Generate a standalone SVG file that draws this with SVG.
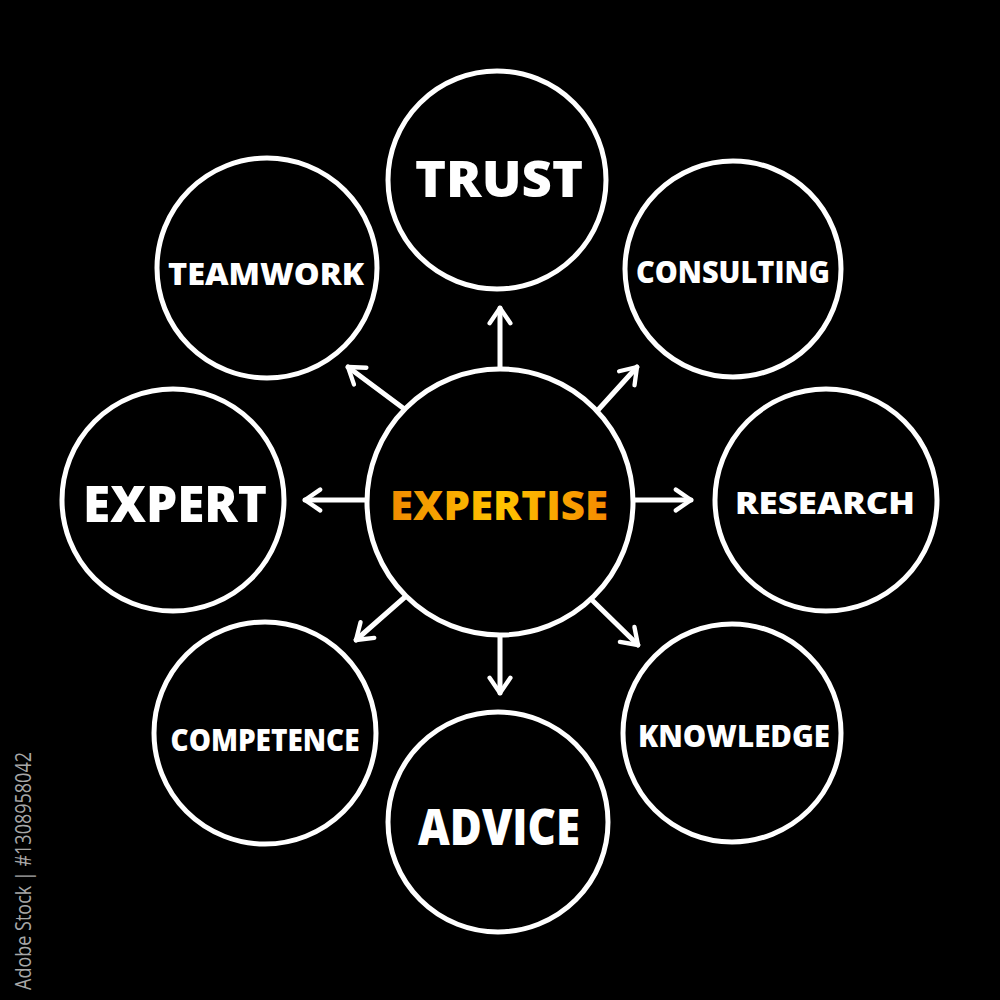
<svg xmlns="http://www.w3.org/2000/svg" width="1000" height="1000" viewBox="0 0 1000 1000">
<defs>
<style>
.ring{fill:#000;stroke:#fff;stroke-width:5}
.lbl{fill:#fff;font-family:"Open Sans","Liberation Sans",sans-serif;font-weight:800;text-anchor:middle}
.big{font-size:50px}
.sm{font-size:30px}
.arr{stroke:#fff;stroke-width:5;stroke-linecap:round;fill:none}
.credit{fill:#a8a8a8;font-family:"Open Sans","Liberation Sans",sans-serif;font-size:21px}
</style>
<linearGradient id="og" x1="0" y1="0" x2="1" y2="0">
<stop offset="0" stop-color="#f08a00"/>
<stop offset="0.5" stop-color="#ffc400"/>
<stop offset="1" stop-color="#f58a00"/>
</linearGradient>
<marker id="ah" viewBox="0 0 12 12" refX="9.5" refY="6" markerWidth="5.2" markerHeight="5.2" orient="auto" markerUnits="strokeWidth">
<path d="M2.5,1.2 L9.5,6 L2.5,10.8" fill="none" stroke="#fff" stroke-width="2" stroke-linecap="round" stroke-linejoin="round"/>
</marker>
</defs>
<rect width="1000" height="1000" fill="#000"/>
<g id="connectors">
<line class="arr" x1="500" y1="368" x2="500" y2="308" marker-end="url(#ah)"/>
<line class="arr" x1="598" y1="410" x2="637" y2="367" marker-end="url(#ah)"/>
<line class="arr" x1="635" y1="500" x2="691" y2="500" marker-end="url(#ah)"/>
<line class="arr" x1="593" y1="601" x2="638" y2="645" marker-end="url(#ah)"/>
<line class="arr" x1="500" y1="636" x2="500" y2="693" marker-end="url(#ah)"/>
<line class="arr" x1="405" y1="597" x2="356" y2="640" marker-end="url(#ah)"/>
<line class="arr" x1="365" y1="500" x2="305" y2="500" marker-end="url(#ah)"/>
<line class="arr" x1="403" y1="408" x2="348" y2="367" marker-end="url(#ah)"/>
</g>
<g id="center">
<circle class="ring" cx="500" cy="502" r="133"/>
<text x="499" y="520" font-family="'Open Sans','Liberation Sans',sans-serif" font-weight="800" font-size="40" fill="url(#og)" text-anchor="middle" textLength="218" lengthAdjust="spacingAndGlyphs">EXPERTISE</text>
</g>
<g id="trust">
<circle class="ring" cx="497" cy="180" r="109"/>
<text class="lbl big" x="499" y="197" textLength="168" lengthAdjust="spacingAndGlyphs">TRUST</text>
</g>
<g id="consulting">
<circle class="ring" cx="733" cy="269" r="108"/>
<text class="lbl sm" x="733" y="283" textLength="194" lengthAdjust="spacingAndGlyphs">CONSULTING</text>
</g>
<g id="research">
<circle class="ring" cx="826" cy="500" r="111"/>
<text class="lbl sm" x="825" y="514" textLength="180" lengthAdjust="spacingAndGlyphs">RESEARCH</text>
</g>
<g id="knowledge">
<circle class="ring" cx="732" cy="733" r="109"/>
<text class="lbl sm" x="734" y="747" textLength="192" lengthAdjust="spacingAndGlyphs">KNOWLEDGE</text>
</g>
<g id="advice">
<circle class="ring" cx="498" cy="822" r="110"/>
<text class="lbl big" x="499" y="845" textLength="162" lengthAdjust="spacingAndGlyphs">ADVICE</text>
</g>
<g id="competence">
<circle class="ring" cx="265" cy="733" r="111"/>
<text class="lbl sm" x="265" y="751" textLength="189" lengthAdjust="spacingAndGlyphs">COMPETENCE</text>
</g>
<g id="expert">
<circle class="ring" cx="173" cy="500" r="111"/>
<text class="lbl big" x="175" y="522" textLength="184" lengthAdjust="spacingAndGlyphs">EXPERT</text>
</g>
<g id="teamwork">
<circle class="ring" cx="267" cy="268" r="110"/>
<text class="lbl sm" x="266" y="285" textLength="196" lengthAdjust="spacingAndGlyphs">TEAMWORK</text>
</g>
<text class="credit" transform="translate(31,990) rotate(-90)" textLength="238" lengthAdjust="spacingAndGlyphs">Adobe Stock | #1308958042</text>
</svg>
